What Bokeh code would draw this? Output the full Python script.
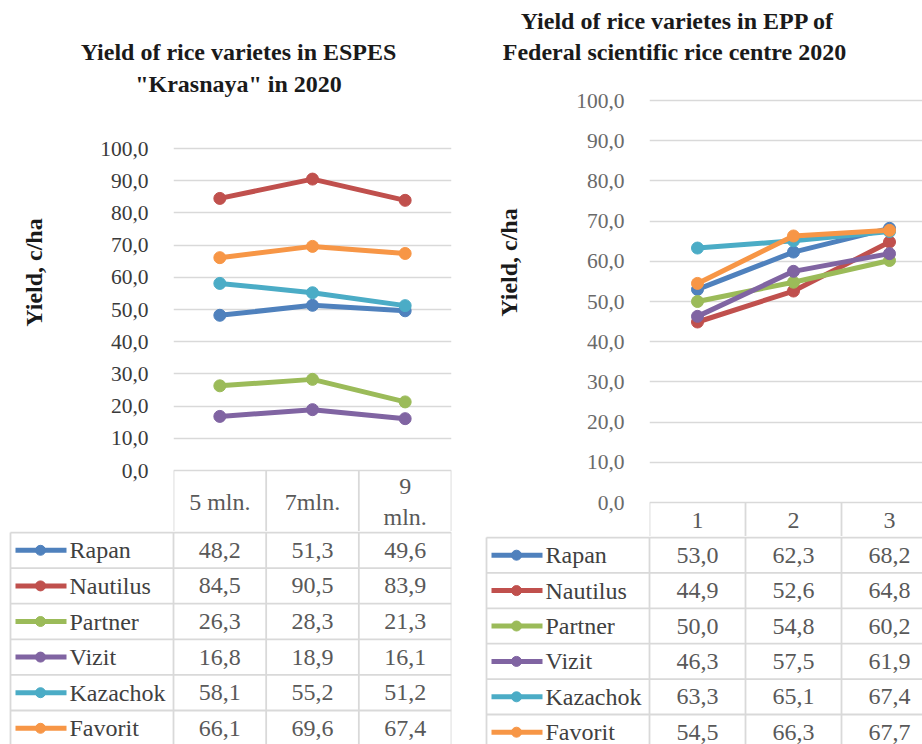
import numpy as np
from bokeh.plotting import figure
from bokeh.layouts import row, column
from bokeh.models import Range1d, FixedTicker, CustomJSTickFormatter, Label, ColumnDataSource
from bokeh.embed import file_html
from bokeh.resources import INLINE
from bokeh.core.properties import value

# ---------------- data ----------------
varieties = ["Rapan", " Nautilus", "Partner", "Vizit", "Kazachok", "Favorit"]
colors = ["#4F81BD", "#C0504D", "#9BBB59", "#8064A2", "#4BACC6", "#F79646"]
y_label = "Yield, c/ha"
y_ticks = [0, 10, 20, 30, 40, 50, 60, 70, 80, 90, 100]

left_title = "Yield of rice varietes in ESPES\n\"Krasnaya\" in 2020"
left_cats = ["5 mln.", "7mln.", "9\nmln."]
left_rapan = [48.2, 51.3, 49.6]
left_nautilus = [84.5, 90.5, 83.9]
left_partner = [26.3, 28.3, 21.3]
left_vizit = [16.8, 18.9, 16.1]
left_kazachok = [58.1, 55.2, 51.2]
left_favorit = [66.1, 69.6, 67.4]

right_title = "Yield of rice varietes in EPP of\nFederal scientific rice centre  2020"
right_cats = ["1", "2", "3"]
right_rapan = [53.0, 62.3, 68.2]
right_nautilus = [44.9, 52.6, 64.8]
right_partner = [50.0, 54.8, 60.2]
right_vizit = [46.3, 57.5, 61.9]
right_kazachok = [63.3, 65.1, 67.4]
right_favorit = [54.5, 66.3, 67.7]

left_series = [left_rapan, left_nautilus, left_partner, left_vizit, left_kazachok, left_favorit]
right_series = [right_rapan, right_nautilus, right_partner, right_vizit, right_kazachok, right_favorit]

# ---------------- styling / layout (page pixels) ----------------
SERIF = "Liberation Serif"
GRID = "#d9d9d9"
TXT = "#595959"
PAGE0 = 0
BOTTOM = 744

left_geo = dict(origin_x=0, fig_w=461, legend_left=10, frame_left=173, col_w=(451 - 173) / 3.0,
                frame_right=451, y100=148, y0=470, header_bottom=532, row_h=35.6, split_y=531,
                title_c=(238, 67.5), ylab_c=(33, 272), tick_color="#3a3a3a")
right_geo = dict(origin_x=461, fig_w=461, legend_left=486, frame_left=649, col_w=96.0,
                 frame_right=922, y100=100, y0=502, header_bottom=537, row_h=35.4, split_y=536,
                 title_c=(677, 36), ylab_c=(508, 262), tick_color="#6a6a6a")


def fmt(v):
    return ("%.1f" % v).replace(".", ",")


def make_side(title, cats, series, g):
    n = len(cats)
    xs = np.arange(1, n + 1)
    ppy = (g["y0"] - g["y100"]) / 100.0
    cw = g["col_w"]
    top_pad = 2
    chart_h = g["split_y"] - PAGE0
    x_end = 0.5 + (g["frame_right"] - g["frame_left"]) / cw
    y_start = -(g["split_y"] - g["y0"]) / ppy

    p = figure(width=g["fig_w"], height=chart_h, output_backend="svg", toolbar_location=None,
               x_range=Range1d(0.5, x_end), y_range=Range1d(y_start, 100 + top_pad / ppy),
               x_axis_location=None, frame_align=False,
               min_border_left=g["frame_left"] - g["origin_x"],
               min_border_right=g["origin_x"] + g["fig_w"] - g["frame_right"],
               min_border_top=g["y100"] - PAGE0 - top_pad, min_border_bottom=0)
    p.outline_line_color = None
    p.xgrid.visible = False
    p.ygrid.ticker = FixedTicker(ticks=y_ticks)
    p.ygrid.grid_line_color = GRID
    p.ygrid.grid_line_width = 1.5
    ax = p.yaxis[0]
    ax.ticker = FixedTicker(ticks=y_ticks)
    ax.formatter = CustomJSTickFormatter(code="return tick.toFixed(1).replace('.', ',')")
    ax.axis_line_color = None
    ax.major_tick_line_color = None
    ax.minor_tick_line_color = None
    ax.major_label_standoff = 19
    ax.major_label_text_font = SERIF
    ax.major_label_text_font_size = "21.5px"
    ax.major_label_text_color = g["tick_color"]

    for name, vals, col in zip(varieties, series, colors):
        src = ColumnDataSource(dict(x=xs, y=vals))
        p.line("x", "y", source=src, line_color=col, line_width=5)
        p.scatter("x", "y", source=src, marker="circle", size=12, fill_color=col, line_color=col)

    # header row of the data table (inside chart figure, below y=0)
    bounds = np.arange(n + 1) + 0.5
    p.segment(x0=bounds, y0=[0] * (n + 1), x1=bounds, y1=[y_start] * (n + 1),
              line_color=GRID, line_width=1.8)
    hdr_y = -((g["header_bottom"] - g["y0"]) / 2.0) / ppy
    p.text(x=xs, y=[hdr_y] * n, text=cats, text_align="center", text_baseline="middle",
           text_font=value(SERIF), text_font_size=value("24px"), text_color=TXT, text_line_height=1.2)

    # axis title and chart title (side-panel labels, positioned in data units)
    p.add_layout(Label(x=0.5 + (g["ylab_c"][0] - g["frame_left"]) / cw,
                       y=(g["y0"] - g["ylab_c"][1]) / ppy,
                       text=y_label, angle=np.pi / 2,
                       text_align="center", text_baseline="middle", text_font=SERIF,
                       text_font_size="24px", text_font_style="bold", text_color="#1a1a1a"), "left")
    p.add_layout(Label(x=0.5 + (g["title_c"][0] - g["frame_left"]) / cw,
                       y=(g["y0"] - g["title_c"][1]) / ppy,
                       text=title, text_align="center", text_baseline="middle", text_font=SERIF,
                       text_font_size="24px", text_font_style="bold", text_color="#1a1a1a"), "above")

    # ---------- table body with legend column ----------
    frame_l = g["legend_left"] - 2
    tbl_h = BOTTOM - g["split_y"]
    tx_start = 0.5 - (g["frame_left"] - frame_l) / cw
    xl = 0.5 - (g["frame_left"] - g["legend_left"]) / cw
    rh = g["row_h"]
    t = figure(width=g["fig_w"], height=tbl_h, output_backend="svg", toolbar_location=None,
               x_range=Range1d(tx_start, x_end),
               y_range=Range1d(-(BOTTOM - g["header_bottom"]) / rh, (g["header_bottom"] - g["split_y"]) / rh),
               x_axis_location=None, y_axis_location=None, frame_align=False,
               min_border_left=frame_l - g["origin_x"],
               min_border_right=g["origin_x"] + g["fig_w"] - g["frame_right"],
               min_border_top=0, min_border_bottom=0)
    t.outline_line_color = None
    t.grid.visible = False
    m = len(varieties)
    hy = -np.arange(m + 1)
    t.segment(x0=[xl] * (m + 1), y0=hy, x1=[n + 0.5] * (m + 1), y1=hy, line_color=GRID, line_width=1.8)
    vx = np.concatenate([[xl], bounds])
    t.segment(x0=vx, y0=[0] * len(vx), x1=vx, y1=[-m] * len(vx), line_color=GRID, line_width=1.8)

    ry = -(np.arange(m) + 0.5)
    t.segment(x0=[xl + 5 / cw] * m, y0=ry, x1=[xl + 56 / cw] * m, y1=ry, line_color=colors, line_width=5)
    t.scatter(x=[xl + 30 / cw] * m, y=ry, marker="circle", size=10, fill_color=colors, line_color=colors)
    t.text(x=[xl + 59 / cw] * m, y=ry, text=varieties, text_align="left", text_baseline="middle",
           text_font=value(SERIF), text_font_size=value("24px"), text_color="#404040")

    cx, cy, ct = [], [], []
    for k, vals in enumerate(series):
        for i, v in enumerate(vals):
            cx.append(xs[i]); cy.append(ry[k]); ct.append(fmt(v))
    t.text(x=cx, y=cy, text=ct, text_align="center", text_baseline="middle",
           text_font=value(SERIF), text_font_size=value("24px"), text_color=TXT)
    return column(p, t)


left = make_side(left_title, left_cats, left_series, left_geo)
right = make_side(right_title, right_cats, right_series, right_geo)
layout = row(left, right)

open("out.html", "w").write(file_html(layout, INLINE))
